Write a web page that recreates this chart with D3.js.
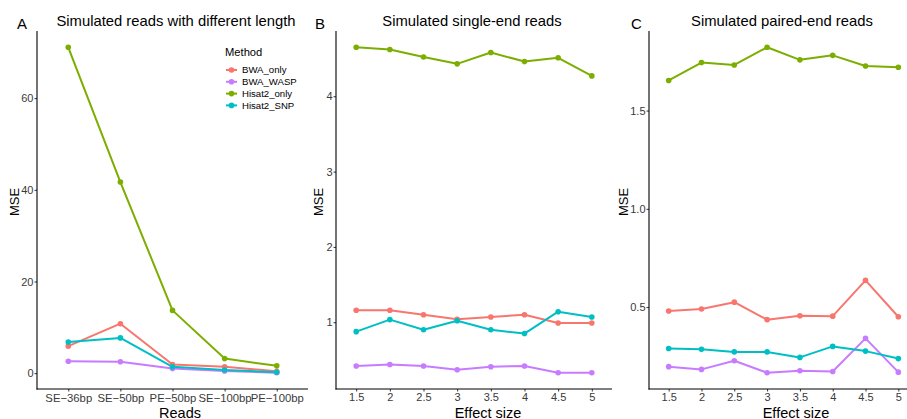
<!DOCTYPE html>
<html>
<head>
<meta charset="utf-8">
<script src="https://cdn.jsdelivr.net/npm/d3@7"></script>
<style>
  html, body { margin: 0; padding: 0; background: #fff; }
  svg { display: block; font-family: "Liberation Sans", Arial, Helvetica, sans-serif; }
</style>
</head>
<body>
<svg id="chart" width="907" height="419"></svg>
<script>
// methods + colours (legend order)
const methods = ["BWA_only", "BWA_WASP", "Hisat2_only", "Hisat2_SNP"];
const methodColors = ["#F8766D", "#C77CFF", "#7CAE00", "#00BFC4"];

// panel A
const readTypes = ["SE\u221236bp", "SE\u221250bp", "PE\u221250bp", "SE\u2212100bp", "PE\u2212100bp"];
const aBWA_only    = [5.9, 10.8, 1.9, 1.4, 0.4];
const aBWA_WASP    = [2.6, 2.5, 1.0, 0.5, 0.1];
const aHisat2_only = [71.1, 41.7, 13.7, 3.2, 1.6];
const aHisat2_SNP  = [6.8, 7.7, 1.4, 0.7, 0.2];
const aTicks = [0, 20, 40, 60];

// panel B
const effectSizes = ["1.5", "2", "2.5", "3", "3.5", "4", "4.5", "5"];
const bBWA_only    = [1.16, 1.16, 1.10, 1.04, 1.07, 1.10, 0.99, 0.99];
const bBWA_WASP    = [0.42, 0.44, 0.42, 0.37, 0.41, 0.42, 0.33, 0.33];
const bHisat2_only = [4.65, 4.62, 4.52, 4.43, 4.58, 4.46, 4.51, 4.27];
const bHisat2_SNP  = [0.875, 1.035, 0.90, 1.02, 0.90, 0.85, 1.14, 1.07];
const bTicks = [1, 2, 3, 4];

// panel C
const cBWA_only    = [0.480, 0.490, 0.525, 0.436, 0.456, 0.454, 0.636, 0.451];
const cBWA_WASP    = [0.197, 0.183, 0.227, 0.166, 0.176, 0.172, 0.341, 0.169];
const cHisat2_only = [1.653, 1.744, 1.732, 1.822, 1.758, 1.781, 1.727, 1.720];
const cHisat2_SNP  = [0.289, 0.285, 0.272, 0.272, 0.244, 0.300, 0.276, 0.238];
const cTicks = [0.5, 1.0, 1.5];

const svg = d3.select("#chart");

const panels = [
  { tag: "A", title: "Simulated reads with different length", xTitle: "Reads",
    cats: readTypes, series: [aBWA_only, aBWA_WASP, aHisat2_only, aHisat2_SNP],
    ticks: aTicks, fmt: d3.format("d"),
    left: 37, right: 308, tagX: 17, titleX: 176, xTitleX: 180, yTitleX: 18.5 },
  { tag: "B", title: "Simulated single-end reads", xTitle: "Effect size",
    cats: effectSizes, series: [bBWA_only, bBWA_WASP, bHisat2_only, bHisat2_SNP],
    ticks: bTicks, fmt: d3.format("d"),
    left: 336, right: 612, tagX: 315, titleX: 472, xTitleX: 488, yTitleX: 322.5 },
  { tag: "C", title: "Simulated paired-end reads", xTitle: "Effect size",
    cats: effectSizes, series: [cBWA_only, cBWA_WASP, cHisat2_only, cHisat2_SNP],
    ticks: cTicks, fmt: d3.format(".1f"),
    left: 649, right: 918, tagX: 631, titleX: 782, xTitleX: 796, yTitleX: 627.5 }
];

const plotTop = 31, plotBottom = 389;

panels.forEach(p => {
  const all = p.series.flat();
  const lo = d3.min(all), hi = d3.max(all);
  const pad = (hi - lo) * 0.05;

  const x = d3.scalePoint().domain(p.cats).range([p.left, p.right]).padding(0.6);
  const y = d3.scaleLinear().domain([lo - pad, hi + pad]).range([plotBottom, plotTop]);

  const g = svg.append("g");

  // axes
  const yAxis = g.append("g")
    .attr("transform", `translate(${p.left},0)`)
    .call(d3.axisLeft(y).tickValues(p.ticks).tickFormat(p.fmt).tickSize(2.5).tickPadding(1));
  const xAxis = g.append("g")
    .attr("transform", `translate(0,${plotBottom})`)
    .call(d3.axisBottom(x).tickSize(2.5).tickPadding(2));

  [xAxis, yAxis].forEach(ax => {
    ax.select(".domain").remove();
    ax.selectAll("line").attr("stroke", "#333").attr("stroke-width", 1);
    ax.selectAll("text").attr("fill", "#3a3a3a").attr("font-size", 11).attr("font-family", null);
  });
  xAxis.selectAll("text").attr("font-size", p.tag === "A" ? 11.3 : 11);

  // axis lines (classic theme)
  g.append("line")
    .attr("x1", p.left).attr("x2", p.left).attr("y1", plotTop).attr("y2", plotBottom + 0.5)
    .attr("stroke", "#000").attr("stroke-width", 1.1);
  g.append("line")
    .attr("x1", p.left - 0.5).attr("x2", p.right).attr("y1", plotBottom).attr("y2", plotBottom)
    .attr("stroke", "#000").attr("stroke-width", 1.1);

  // lines then points
  const line = d3.line().x((d, i) => x(p.cats[i])).y(d => y(d));
  p.series.forEach((vals, k) => {
    g.append("path").datum(vals)
      .attr("d", line).attr("fill", "none")
      .attr("stroke", methodColors[k]).attr("stroke-width", 2)
      .attr("stroke-linejoin", "round");
  });
  p.series.forEach((vals, k) => {
    g.selectAll(null).data(vals).enter().append("circle")
      .attr("cx", (d, i) => x(p.cats[i])).attr("cy", d => y(d))
      .attr("r", 2.8).attr("fill", methodColors[k]);
  });

  // titles
  g.append("text").attr("x", p.titleX).attr("y", 25.5)
    .attr("text-anchor", "middle").attr("font-size", 14.8).attr("fill", "#000")
    .text(p.title);
  g.append("text").attr("x", p.tagX).attr("y", 29)
    .attr("font-size", 15).attr("fill", "#000").text(p.tag);
  g.append("text").attr("x", p.xTitleX).attr("y", 417.5)
    .attr("text-anchor", "middle").attr("font-size", 14.5).attr("fill", "#000")
    .text(p.xTitle);
  g.append("text")
    .attr("transform", `translate(${p.yTitleX},202) rotate(-90)`)
    .attr("text-anchor", "middle").attr("font-size", 13).attr("fill", "#000")
    .text("MSE");
});

// legend
const legend = svg.append("g");
legend.append("text").attr("x", 225).attr("y", 56)
  .attr("font-size", 11.2).attr("fill", "#000").text("Method");
methods.forEach((m, i) => {
  const cy = 70 + i * 11.8;
  legend.append("line").attr("x1", 226).attr("x2", 237).attr("y1", cy).attr("y2", cy)
    .attr("stroke", methodColors[i]).attr("stroke-width", 2);
  legend.append("circle").attr("cx", 231.5).attr("cy", cy).attr("r", 2.8)
    .attr("fill", methodColors[i]);
  legend.append("text").attr("x", 242).attr("y", cy + 3.4)
    .attr("font-size", 9.6).attr("fill", "#000").text(m);
});
</script>
</body>
</html>
